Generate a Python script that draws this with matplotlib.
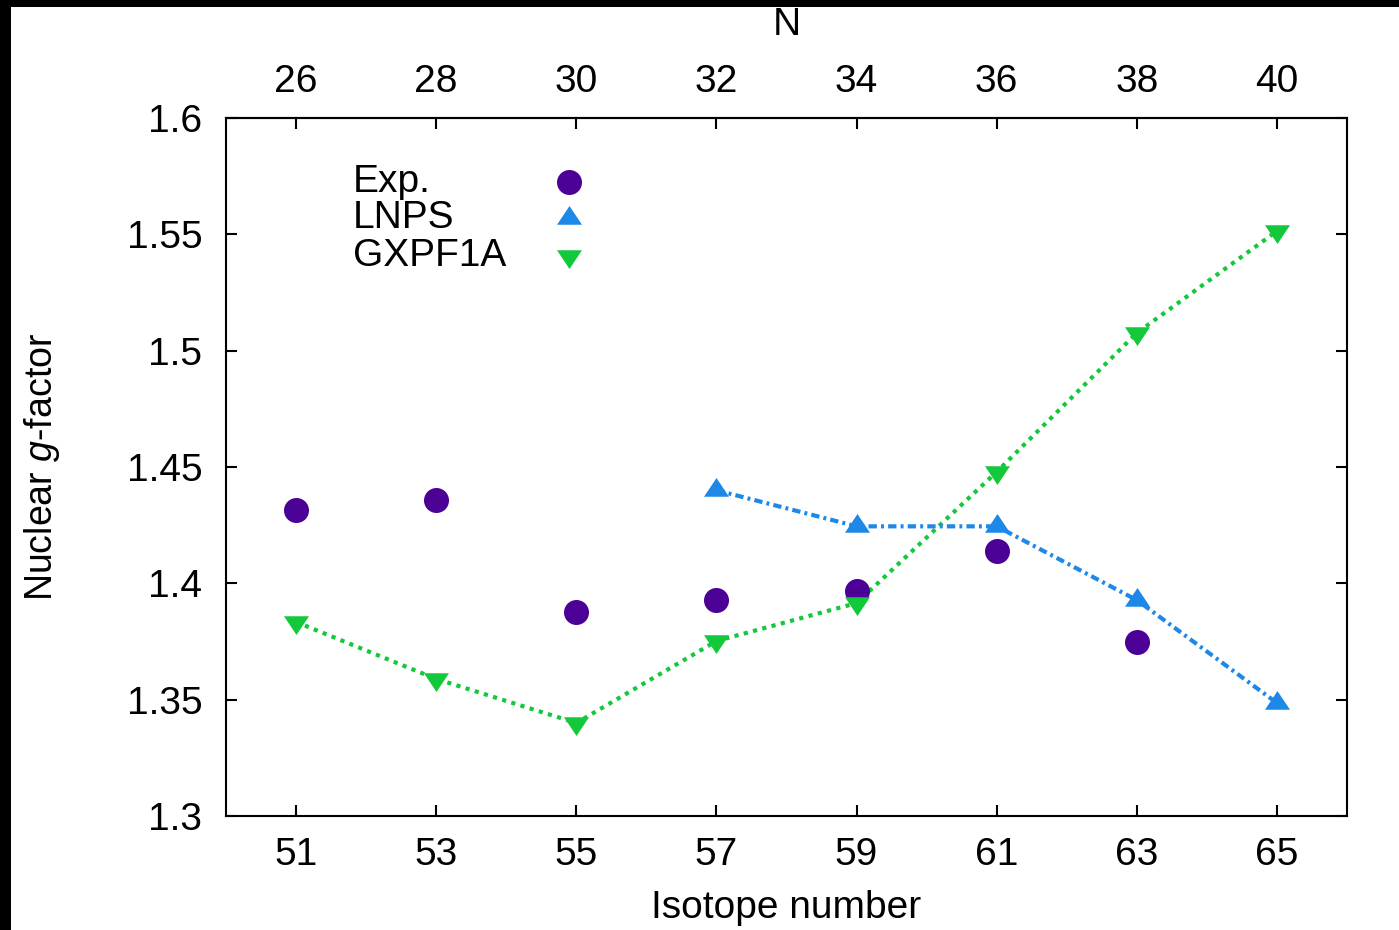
import matplotlib
matplotlib.use("Agg")
import matplotlib.pyplot as plt
from matplotlib.lines import Line2D
from matplotlib.patches import Rectangle

plt.rcParams['font.family'] = ['Liberation Sans', 'DejaVu Sans']
plt.rcParams['mathtext.fontset'] = 'custom'
plt.rcParams['mathtext.rm'] = 'Liberation Sans'
plt.rcParams['mathtext.it'] = 'Liberation Sans:italic'

# Data
exp_A = [51, 53, 55, 57, 59, 61, 63]
exp_g = [1.4315, 1.4358, 1.3877, 1.3928, 1.3967, 1.4139, 1.3748]
lnps_A = [57, 59, 61, 63, 65]
lnps_g = [1.4400, 1.4245, 1.4245, 1.3928, 1.3486]
gx_A = [51, 53, 55, 57, 59, 61, 63, 65]
gx_g = [1.3834, 1.3589, 1.3400, 1.3752, 1.3915, 1.4479, 1.5076, 1.5514]
a_ticks = [51, 53, 55, 57, 59, 61, 63, 65]
n_ticks = [26, 28, 30, 32, 34, 36, 38, 40]
y_ticks = [1.3, 1.35, 1.4, 1.45, 1.5, 1.55, 1.6]
y_labels = ['1.3', '1.35', '1.4', '1.45', '1.5', '1.55', '1.6']
series_names = ['Exp.', 'LNPS', 'GXPF1A']

c_exp = '#4b0096'
c_lnps = '#1e88e8'
c_gx = '#14c83c'

up_tri = [(0, 1), (-1, -0.5), (1, -0.5), (0, 1)]
dn_tri = [(0, -1), (-1, 0.5), (1, 0.5), (0, -1)]

W, H = 1399, 930
fig = plt.figure(figsize=(W / 100, H / 100), dpi=100, facecolor='black')
bg = Rectangle((11 / W, 0), 1 - 11 / W, 1 - 7 / H,
               transform=fig.transFigure, facecolor='white',
               edgecolor='none', zorder=-10)
fig.patches.append(bg)

AX_L, AX_R, AX_T, AX_B = 226, 1347, 118, 816
ax = fig.add_axes([AX_L / W, (H - AX_B) / H, (AX_R - AX_L) / W, (AX_B - AX_T) / H])
ax.set_zorder(5)
ax.set_facecolor('white')

fs = 28
ms = 18
ax.plot(gx_A, gx_g, color=c_gx, lw=3, ls=(0, (1, 1.3)), zorder=2)
ax.plot(lnps_A, lnps_g, color=c_lnps, lw=3, ls=(0, (2, 1, 0.7, 1)), zorder=2)
ax.plot(exp_A, exp_g, ls='none', marker='o', ms=ms, color=c_exp, mec='none', zorder=3)
ax.plot(lnps_A, lnps_g, ls='none', marker=up_tri, ms=ms, color=c_lnps, mec='none', zorder=3)
ax.plot(gx_A, gx_g, ls='none', marker=dn_tri, ms=ms, color=c_gx, mec='none', zorder=3)

ax.set_xlim(50, 66)
ax.set_ylim(1.3, 1.6)
ax.set_xticks(a_ticks)
ax.set_xticklabels([str(a) for a in a_ticks])
ax.set_yticks(y_ticks)
ax.set_yticklabels(y_labels)

for s in ax.spines.values():
    s.set_linewidth(1.5)
ax.tick_params(axis='both', direction='in', length=8, width=1.5, labelsize=fs)
ax.tick_params(axis='x', top=False, bottom=True, pad=15)
ax.tick_params(axis='y', left=True, right=True, pad=17)

sec = ax.secondary_xaxis('top', functions=(lambda a: a - 25, lambda n: n + 25))
sec.set_xticks(n_ticks)
sec.set_xticklabels([str(n) for n in n_ticks])
sec.tick_params(direction='in', length=8, width=1.5, labelsize=fs, pad=13)
sec.spines['top'].set_linewidth(1.5)
sec.set_xlabel('N', fontsize=fs, va='center')
sec.xaxis.set_label_coords(0.5, (H - 25 - (H - AX_B)) / (AX_B - AX_T),
                           transform=ax.transAxes)

ax.set_xlabel('Isotope number', fontsize=fs, va='center')
ax.xaxis.set_label_coords(0.5, -0.132)
ax.set_ylabel(r'Nuclear $g$-factor', fontsize=27, va='center')
ax.yaxis.set_label_coords(-0.164, 0.5)

# manual key (text left-aligned, marker column to the right)
def axfrac(px, py):
    return (px - AX_L) / (AX_R - AX_L), (AX_B - py) / (AX_B - AX_T)

key_rows_y = [182, 218, 256]
key_markers = [('o', c_exp), (up_tri, c_lnps), (dn_tri, c_gx)]
for name, ry, (mk, col) in zip(series_names, key_rows_y, key_markers):
    tx, ty = axfrac(353, ry)
    ax.text(tx, ty, name, transform=ax.transAxes, fontsize=fs,
            ha='left', va='center')
    mx, my = axfrac(569, ry)
    ax.add_line(Line2D([mx], [my], transform=ax.transAxes, ls='none',
                       marker=mk, ms=ms, color=col, mec='none'))

fig.savefig('out.png', dpi=100, facecolor='black')
